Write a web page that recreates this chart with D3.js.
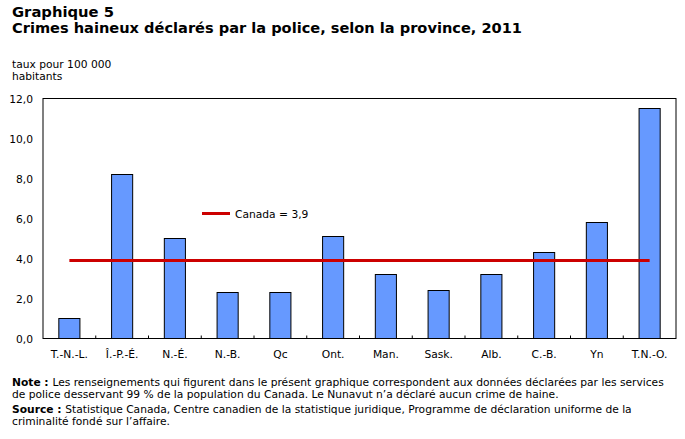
<!DOCTYPE html>
<html>
<head>
<meta charset="utf-8">
<script src="https://cdn.jsdelivr.net/npm/d3@7"></script>
<style>
  body { margin: 0; background: #fff; }
  svg text { font-family: "DejaVu Sans", Verdana, sans-serif; fill: #000; }
</style>
</head>
<body>
<svg id="chart" width="685" height="439"></svg>
<script>
// data
const provinces = ["T.-N.-L.", "Î.-P.-É.", "N.-É.", "N.-B.", "Qc", "Ont.", "Man.", "Sask.", "Alb.", "C.-B.", "Yn", "T.N.-O."];
const rates = [1.0, 8.2, 5.0, 2.3, 2.3, 5.1, 3.2, 2.4, 3.2, 4.3, 5.8, 11.5];
const canadaRate = 3.9;
const yTicks = [0, 2, 4, 6, 8, 10, 12];

const svg = d3.select('#chart');
const margin = { top: 98.5, right: 9, bottom: 100.5, left: 43 };
const width = 685 - margin.left - margin.right;
const height = 439 - margin.top - margin.bottom;

const fmt = v => d3.format('.1f')(v).replace('.', ',');

// titles
svg.append('text').attr('x', 12).attr('y', 17)
    .style('font-size', '13.5px').style('font-weight', 'bold')
    .attr('textLength', 102).attr('lengthAdjust', 'spacingAndGlyphs')
    .text('Graphique 5');
svg.append('text').attr('x', 12).attr('y', 33)
    .style('font-size', '13.5px').style('font-weight', 'bold')
    .attr('textLength', 510).attr('lengthAdjust', 'spacingAndGlyphs')
    .text('Crimes haineux déclarés par la police, selon la province, 2011');
svg.append('text').attr('x', 12).attr('y', 68).style('font-size', '10.7px').text('taux pour 100 000');
svg.append('text').attr('x', 12).attr('y', 80).style('font-size', '10.7px').text('habitants');

const g = svg.append('g').attr('transform', `translate(${margin.left},${margin.top})`);

const x = d3.scaleBand().domain(provinces).range([0, width]).paddingInner(0.6).paddingOuter(0.3);
const y = d3.scaleLinear().domain([0, 12]).range([height, 0]);

// y labels
g.selectAll('.ylab').data(yTicks).enter().append('text')
    .attr('class', 'ylab')
    .attr('x', -10).attr('y', d => y(d) + 4)
    .attr('text-anchor', 'end')
    .style('font-size', '10.7px')
    .text(fmt);

// bars
g.selectAll('.bar').data(rates).enter().append('rect')
    .attr('class', 'bar')
    .attr('x', (d, i) => x(provinces[i]))
    .attr('y', d => y(d))
    .attr('width', x.bandwidth())
    .attr('height', d => height - y(d))
    .style('fill', '#6699ff')
    .style('stroke', '#000')
    .style('stroke-width', 1);

// frame
g.append('rect').attr('width', width).attr('height', height)
    .style('fill', 'none').style('stroke', '#000').style('stroke-width', 1);

// x ticks at category boundaries (inward)
const step = x.step();
g.selectAll('.xtick').data(provinces.slice(1)).enter().append('line')
    .attr('x1', d => x(d) - step * 0.3).attr('x2', d => x(d) - step * 0.3)
    .attr('y1', height).attr('y2', height - 3)
    .style('stroke', '#000');

// x labels
g.selectAll('.xlab').data(provinces).enter().append('text')
    .attr('x', d => x(d) + x.bandwidth() / 2)
    .attr('y', height + 19)
    .attr('text-anchor', 'middle')
    .style('font-size', '10.7px')
    .text(d => d);

// Canada line
const cx0 = x(provinces[0]) + x.bandwidth() / 2;
const cx1 = x(provinces[provinces.length - 1]) + x.bandwidth() / 2;
g.append('line')
    .attr('x1', cx0).attr('x2', cx1)
    .attr('y1', y(canadaRate)).attr('y2', y(canadaRate))
    .style('stroke', '#cc0000').style('stroke-width', 3);

// legend
svg.append('line').attr('x1', 202).attr('x2', 230).attr('y1', 213.5).attr('y2', 213.5)
    .style('stroke', '#cc0000').style('stroke-width', 3);
svg.append('text').attr('x', 235).attr('y', 217.5).style('font-size', '10.7px')
    .text('Canada = ' + fmt(canadaRate));

// notes
const notes = [
  { y: 386, bold: 'Note\u00a0: ', text: 'Les renseignements qui figurent dans le présent graphique correspondent aux données déclarées par les services' },
  { y: 398, bold: '', text: 'de police desservant 99 % de la population du Canada. Le Nunavut n\u2019a déclaré aucun crime de haine.' },
  { y: 413, bold: 'Source\u00a0: ', text: 'Statistique Canada, Centre canadien de la statistique juridique, Programme de déclaration uniforme de la' },
  { y: 425, bold: '', text: 'criminalité fondé sur l\u2019affaire.' }
];
notes.forEach(n => {
  const t = svg.append('text').attr('x', 12).attr('y', n.y).style('font-size', '10.7px');
  if (n.bold) t.append('tspan').style('font-weight', 'bold').text(n.bold);
  t.append('tspan').text(n.text);
});
</script>
</body>
</html>
